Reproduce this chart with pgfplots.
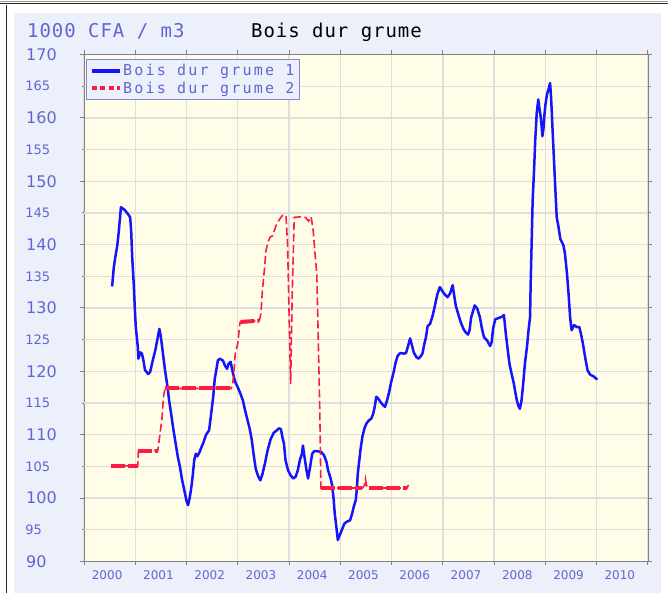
\documentclass[border=0pt]{standalone}
\usepackage{fontspec}
\setmainfont{DejaVu Sans}
\newfontfamily\monott[LetterSpace=5]{DejaVu Sans Mono}
\newfontfamily\monolg[LetterSpace=15]{DejaVu Sans Mono}
\usepackage{pgfplots}
\usepackage{pgfplotstable}
\pgfplotsset{compat=1.18}
\definecolor{panel}{RGB}{236,240,250}
\definecolor{plotbg}{RGB}{255,253,232}
\definecolor{gridc}{RGB}{222,222,222}
\definecolor{axisc}{RGB}{130,130,130}
\definecolor{lblue}{RGB}{100,100,210}
\definecolor{redc}{RGB}{250,30,70}
\definecolor{bluec}{RGB}{20,20,255}

\pgfplotstableread{
x y
2000.548 133.4
2000.58 136.3
2000.61 138.0
2000.65 139.9
2000.68 142.2
2000.72 145.9
2000.79 145.5
2000.86 144.8
2000.90 144.3
2000.92 142.2
2000.94 138.0
2000.97 133.8
2000.99 130.1
2001.01 127.0
2001.05 123.8
2001.06 122.0
2001.10 123.0
2001.13 122.8
2001.16 121.7
2001.19 120.2
2001.25 119.6
2001.29 119.9
2001.34 121.7
2001.39 123.3
2001.44 125.4
2001.47 126.7
2001.50 125.4
2001.54 122.8
2001.58 120.2
2001.63 117.5
2001.66 115.4
2001.70 113.3
2001.74 111.0
2001.79 108.5
2001.83 106.5
2001.87 105.0
2001.91 103.0
2001.95 101.5
2002.00 99.5
2002.03 98.9
2002.06 100.0
2002.09 101.5
2002.12 103.5
2002.15 106.0
2002.18 107.0
2002.21 106.6
2002.25 107.2
2002.29 108.0
2002.33 108.8
2002.38 110.0
2002.44 110.7
2002.48 113.3
2002.52 116.0
2002.55 118.8
2002.58 120.2
2002.61 121.7
2002.65 122.0
2002.71 121.7
2002.75 120.9
2002.79 120.4
2002.82 121.2
2002.86 121.5
2002.90 119.9
2002.95 118.3
2003.00 117.5
2003.05 116.5
2003.10 115.4
2003.14 113.9
2003.19 112.3
2003.23 111.0
2003.27 109.3
2003.31 106.8
2003.35 104.6
2003.40 103.4
2003.44 102.8
2003.48 103.8
2003.53 105.5
2003.58 107.5
2003.64 109.3
2003.70 110.3
2003.76 110.7
2003.80 111.0
2003.84 110.9
2003.87 109.6
2003.90 108.6
2003.93 106.0
2003.98 104.4
2004.03 103.6
2004.08 103.1
2004.13 103.4
2004.17 104.4
2004.21 106.0
2004.25 107.0
2004.27 108.3
2004.30 106.5
2004.34 104.4
2004.37 103.1
2004.41 104.9
2004.45 107.0
2004.49 107.4
2004.55 107.4
2004.62 107.3
2004.68 106.8
2004.73 105.7
2004.76 104.4
2004.81 103.1
2004.84 102.0
2004.87 99.7
2004.89 97.6
2004.93 94.9
2004.95 93.4
2004.99 94.2
2005.04 95.2
2005.08 96.0
2005.13 96.3
2005.19 96.5
2005.23 97.6
2005.26 98.6
2005.30 99.7
2005.32 101.3
2005.34 103.9
2005.37 106.0
2005.39 107.5
2005.43 109.7
2005.47 111.0
2005.51 111.8
2005.56 112.3
2005.60 112.5
2005.64 113.3
2005.67 114.4
2005.70 116.0
2005.74 115.7
2005.78 115.2
2005.83 114.7
2005.87 114.4
2005.91 115.4
2005.95 116.7
2005.99 118.3
2006.04 119.9
2006.08 121.5
2006.12 122.5
2006.17 122.9
2006.24 122.8
2006.28 122.9
2006.32 124.0
2006.36 125.2
2006.39 124.3
2006.43 123.0
2006.48 122.3
2006.52 122.0
2006.56 122.3
2006.60 122.8
2006.64 124.4
2006.67 125.4
2006.70 127.1
2006.75 127.5
2006.80 128.8
2006.85 130.6
2006.89 132.1
2006.94 133.3
2006.98 132.8
2007.03 132.2
2007.09 131.7
2007.14 132.3
2007.19 133.6
2007.21 132.5
2007.25 130.4
2007.30 129.0
2007.35 127.7
2007.40 126.7
2007.44 126.2
2007.49 125.8
2007.52 126.5
2007.55 128.5
2007.58 129.3
2007.62 130.4
2007.67 129.9
2007.72 128.6
2007.76 126.8
2007.80 125.4
2007.86 124.9
2007.92 124.0
2007.95 124.6
2007.98 126.8
2008.02 128.2
2008.08 128.4
2008.15 128.6
2008.19 128.9
2008.23 125.7
2008.27 123.0
2008.30 121.1
2008.34 119.6
2008.38 118.2
2008.41 116.8
2008.44 115.5
2008.47 114.6
2008.50 114.1
2008.53 115.2
2008.56 117.5
2008.60 121.3
2008.64 123.9
2008.67 126.5
2008.70 128.6
2008.71 133.3
2008.73 140.1
2008.75 146.9
2008.78 152.2
2008.80 156.4
2008.83 160.8
2008.86 162.9
2008.88 161.6
2008.91 160.0
2008.93 158.2
2008.94 157.1
2008.96 158.2
2008.98 160.5
2009.00 162.1
2009.03 163.7
2009.06 164.5
2009.09 165.5
2009.11 163.2
2009.14 157.9
2009.17 152.7
2009.20 147.5
2009.22 144.3
2009.25 143.0
2009.29 140.9
2009.32 140.4
2009.35 139.9
2009.38 138.6
2009.42 135.4
2009.45 132.3
2009.48 128.6
2009.51 126.5
2009.56 127.3
2009.61 127.0
2009.66 127.0
2009.69 126.0
2009.73 124.4
2009.76 122.9
2009.79 121.5
2009.82 120.2
2009.87 119.5
2009.94 119.2
2010.01 118.7
}\bluedata

\pgfplotstableread{
x y
2000.53 105.1
2001.05 105.1
2001.06 107.5
2001.44 107.5
2001.48 110.0
2001.52 112.5
2001.55 116.0
2001.58 117.3
2002.87 117.3
2002.90 118.0
2002.93 120.5
2002.95 122.8
2003.00 124.4
2003.04 127.6
2003.05 127.8
2003.42 128.0
2003.45 129.1
2003.48 132.8
2003.52 136.2
2003.55 139.1
2003.59 140.4
2003.63 141.2
2003.68 141.4
2003.71 142.2
2003.76 143.3
2003.84 144.3
2003.87 144.6
2003.94 144.6
2003.97 140.0
2004.00 129.1
2004.03 118.0
2004.06 132.0
2004.10 144.3
2004.23 144.4
2004.32 144.3
2004.38 143.7
2004.43 144.4
2004.47 142.2
2004.50 139.1
2004.54 135.4
2004.56 128.5
2004.60 113.3
2004.62 101.6
2005.43 101.6
2005.47 102.0
2005.49 103.0
2005.51 102.0
2005.55 101.6
2006.30 101.6
2006.33 102.1
}\reddata

\begin{document}
\begin{tikzpicture}
\useasboundingbox (0pt,0pt) rectangle (668pt,593pt);
\fill[white] (0pt,0pt) rectangle (668pt,593pt);
\fill[panel] (13.5pt,0pt) rectangle (661pt,580pt);
\draw[black!40, line width=0.8pt] (0pt,592pt) -- (668pt,592pt);
\draw[black!85, line width=1pt] (0pt,589.5pt) -- (668pt,589.5pt);
\draw[black!85, line width=1.2pt] (6.5pt,0pt) -- (6.5pt,588pt);
\node[anchor=base west, font=\monott\fontsize{19}{19}\selectfont, text=lblue, inner sep=0pt] at (27pt,555.5pt) {1000 CFA / m3};
\node[anchor=base west, font=\monott\fontsize{19}{19}\selectfont, text=black, inner sep=0pt] at (251pt,555.5pt) {Bois dur grume};
\begin{axis}[
  at={(84pt,31.5pt)}, anchor=south west, scale only axis,
  width=564pt, height=507pt,
  xmin=2000, xmax=2011, ymin=90, ymax=170,
  axis background/.style={fill=plotbg},
  axis line style={draw=axisc, line width=1pt},
  grid=major, major grid style={draw=gridc, line width=1.3pt},
  tick align=outside, tick style={draw=axisc, line width=1pt}, major tick length=4pt,
  xtick={2000,...,2011}, x tick label as interval,
  xticklabels={2000,2001,2002,2003,2004,2005,2006,2007,2008,2009,2010},
  xticklabel style={font=\fontsize{12}{12}\selectfont, text=lblue, xshift=-2.5pt, yshift=-2pt},
  ytick={90,100,...,170},
  yticklabels={90,100,110,120,130,140,150,160,170},
  yticklabel style={font=\fontsize{16}{16}\selectfont, text=lblue, anchor=west, inner sep=0pt, xshift=-54pt},
  extra y ticks={95,105,...,165},
  extra y tick labels={95,105,115,125,135,145,155,165},
  extra y tick style={grid=major, major tick length=2.5pt, yticklabel style={font=\fontsize{13}{13}\selectfont, xshift=-2.3pt}},
  legend cell align=left,
  legend image code/.code={\draw[#1] (0pt,0pt) -- (28pt,0pt);},
  legend style={at={(0,1)}, anchor=north west, xshift=1.5pt, yshift=-4.5pt,
    draw=lblue!80, line width=1pt, fill=panel, text=lblue,
    font=\monolg\fontsize{15}{15}\selectfont,
    inner sep=3.5pt, row sep=1.5pt, nodes={inner sep=1.5pt}},
]
\addlegendimage{bluec, line width=4pt}
\addlegendentry{Bois dur grume 1}
\addlegendimage{redc, line width=4pt, dash pattern=on 5pt off 3.5pt}
\addlegendentry{Bois dur grume 2}
\addplot[forget plot, bluec, line width=2.5pt, line join=round] table[x=x,y=y] {\bluedata};
\addplot[forget plot, redc, line width=1.6pt, dash pattern=on 8pt off 3.5pt] table[x=x,y=y] {\reddata};
\addplot[forget plot, redc, line width=4pt, dash pattern=on 14pt off 3pt] coordinates {(2000.53,105.1) (2001.05,105.1)};
\addplot[forget plot, redc, line width=4pt, dash pattern=on 14pt off 3pt] coordinates {(2001.06,107.5) (2001.44,107.5)};
\addplot[forget plot, redc, line width=4pt, dash pattern=on 14pt off 3pt] coordinates {(2001.58,117.3) (2002.87,117.3)};
\addplot[forget plot, redc, line width=4pt, dash pattern=on 14pt off 3pt] coordinates {(2003.05,127.8) (2003.42,128.0)};
\addplot[forget plot, redc, line width=4pt, dash pattern=on 14pt off 3pt] coordinates {(2004.62,101.6) (2005.43,101.6)};
\addplot[forget plot, redc, line width=4pt, dash pattern=on 14pt off 3pt] coordinates {(2005.55,101.6) (2006.30,101.6)};
\end{axis}
\end{tikzpicture}
\end{document}
